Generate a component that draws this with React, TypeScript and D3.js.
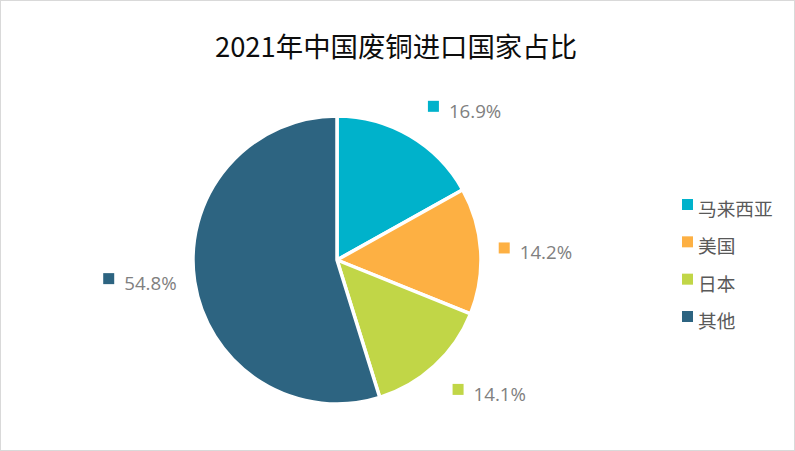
import { useEffect, useRef } from "react";
import * as d3 from "d3";

const countries = ["马来西亚", "美国", "日本", "其他"];
const shares = [16.9, 14.2, 14.1, 54.8];
const colors = ["#00b2cb", "#fdb043", "#c1d647", "#2d6481"];
const TITLE = "2021年中国废铜进口国家占比";

const WIDTH = 795;
const HEIGHT = 451;
const CX = 337;
const CY = 260;
const RADIUS = 144;
const LABEL_GAP = 18;
const SQ = 11;
const CJK = '"Noto Sans CJK SC", "Noto Sans", sans-serif';
const NUM = '"Open Sans", "Noto Sans", sans-serif';

export default function App() {
  const svgRef = useRef<SVGSVGElement | null>(null);

  useEffect(() => {
    const svgEl = svgRef.current;
    if (!svgEl) return;
    const svg = d3.select(svgEl);
    svg.selectAll("*").remove();

    // chart area border
    svg
      .append("rect")
      .attr("x", 0.5)
      .attr("y", 0.5)
      .attr("width", WIDTH - 1)
      .attr("height", HEIGHT - 1)
      .attr("fill", "#fff")
      .attr("stroke", "#d9d9d9");

    svg
      .append("text")
      .attr("x", 396)
      .attr("y", 57)
      .attr("text-anchor", "middle")
      .attr("font-family", CJK)
      .attr("font-size", "27.4px")
      .attr("fill", "#0d0d0d")
      .text(TITLE);

    const pie = d3
      .pie<number>()
      .sort(null)
      .value((d) => d);
    const arcs = pie(shares);
    const arc = d3.arc<d3.PieArcDatum<number>>().innerRadius(0).outerRadius(RADIUS);

    const gPie = svg.append("g").attr("transform", `translate(${CX},${CY})`);
    gPie
      .selectAll("path")
      .data(arcs)
      .join("path")
      .attr("d", arc)
      .attr("fill", (_, i) => colors[i])
      .attr("stroke", "#fff")
      .attr("stroke-width", 3.5)
      .attr("stroke-linejoin", "round");

    // Outside-end data labels: box sits beside the arc point at the slice's mid angle.
    const fmt = d3.format(".1f");
    arcs.forEach((a, i) => {
      const mid = (a.startAngle + a.endAngle) / 2;
      const sin = Math.sin(mid);
      const cos = Math.cos(mid);
      const px = CX + RADIUS * sin;
      const py = CY - RADIUS * cos;
      const g = svg.append("g");
      const text = g
        .append("text")
        .attr("font-family", NUM)
        .attr("font-size", "18.7px")
        .attr("fill", "#808080")
        .text(`${fmt(a.data)}%`);
      const tw = (text.node() as SVGTextElement).getComputedTextLength();
      const boxW = SQ + 10 + tw;
      const boxH = 17;
      const left = sin >= 0 ? px + LABEL_GAP : px - LABEL_GAP - boxW;
      let baseline: number;
      if (cos > 0.5) baseline = py - LABEL_GAP;
      else if (cos < -0.5) baseline = py + LABEL_GAP + boxH;
      else baseline = py + boxH / 2;
      g.append("rect")
        .attr("x", left)
        .attr("y", baseline - 17)
        .attr("width", SQ)
        .attr("height", SQ)
        .attr("fill", colors[i]);
      text.attr("x", left + SQ + 10).attr("y", baseline);
    });

    // Legend
    const rowY = d3
      .scalePoint<string>()
      .domain(countries)
      .range([199, 311]);
    const legend = svg.append("g");
    countries.forEach((name, i) => {
      const y = rowY(name) ?? 0;
      legend
        .append("rect")
        .attr("x", 682)
        .attr("y", y)
        .attr("width", SQ)
        .attr("height", SQ)
        .attr("fill", colors[i]);
      legend
        .append("text")
        .attr("x", 698)
        .attr("y", y + 17)
        .attr("font-family", CJK)
        .attr("font-size", "18.7px")
        .attr("fill", "#595959")
        .text(name);
    });
  }, []);

  return (
    <>
      <style>{`body{margin:0}`}</style>
      <svg ref={svgRef} width={WIDTH} height={HEIGHT} style={{ display: "block" }} />
    </>
  );
}
